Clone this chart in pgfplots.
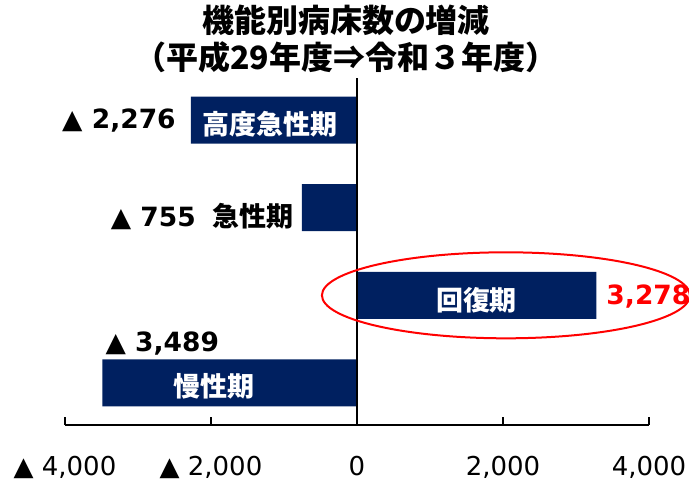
\documentclass[border=0pt]{standalone}
\usepackage{pgfplots}
\pgfplotsset{compat=1.18}
\usepackage{fontspec}
\setmainfont{DejaVu Sans}
\newfontfamily\jp{Noto Sans CJK JP}
\definecolor{navy}{HTML}{002060}
\begin{document}
\begin{tikzpicture}
\begin{axis}[
  at={(65pt,63pt)}, anchor=south west,
  scale only axis, width=584pt, height=347pt,
  xmin=-4000, xmax=4000, ymin=-0.48, ymax=3.48,
  axis x line=bottom, axis y line=none,
  axis line style={-, line width=1.6pt, black},
  xtick={-4000,-2000,0,2000,4000},
  xticklabels={{▲ 4,000},{▲ 2,000},{0},{2,000},{4,000}},
  xtick align=inside, major tick length=8pt,
  tick style={line width=1.6pt, black},
  xticklabel style={font=\fontsize{26}{30}\selectfont, anchor=north, text height=19pt, text depth=5pt, inner sep=0pt, yshift=-31pt},
  ytick=\empty,
  xbar, bar width=47pt,
  clip=false,
]
\addplot[fill=navy, draw=none] coordinates {(-2276,3) (-755,2) (3278,1) (-3489,0)};
\draw[line width=1.6pt] (axis cs:0,-0.48) -- (axis cs:0,3.48);
\draw[red, line width=2pt] (axis cs:2040,1) ellipse [x radius=184pt, y radius=43pt];
% value labels
\node[anchor=east, inner sep=0pt, font=\bfseries\fontsize{26.5}{30}\selectfont] at ([xshift=-15pt]axis cs:-2276,3) {▲ 2,276};
\node[anchor=east, inner sep=0pt, font=\bfseries\fontsize{26.5}{30}\selectfont] at ([xshift=-8pt,yshift=-9pt]axis cs:-755,2) {▲ 755\hspace{17pt}{\jp\bfseries\fontsize{27}{30}\selectfont 急性期}};
\node[anchor=west, inner sep=0pt, text=red, font=\bfseries\fontsize{26.5}{30}\selectfont] at ([xshift=10pt,yshift=-1pt]axis cs:3278,1) {3,278};
\node[anchor=base west, inner sep=0pt, font=\bfseries\fontsize{26.5}{30}\selectfont] at ([xshift=3pt,yshift=31pt]axis cs:-3489,0) {▲ 3,489};
% in-bar labels
\node[text=white, inner sep=0pt, font=\jp\bfseries\fontsize{27}{30}\selectfont] at ([yshift=-4pt]axis cs:-1192,3) {高度急性期};
\node[text=white, inner sep=0pt, font=\jp\bfseries\fontsize{27}{30}\selectfont] at ([yshift=-4.5pt]axis cs:1637,1) {回復期};
\node[text=white, inner sep=0pt, font=\jp\bfseries\fontsize{27}{30}\selectfont] at ([yshift=-3.5pt]axis cs:-1959,0) {慢性期};
\end{axis}
\node[font=\jp\bfseries\fontsize{32}{36}\selectfont] at (346pt,468pt) {機能別病床数の増減};
\node[font=\jp\bfseries\fontsize{32}{36}\selectfont] at (346pt,431pt) {（平成29年度⇒令和３年度）};
\pgfresetboundingbox
\path (0pt,0pt) rectangle (689pt,488pt);
\end{tikzpicture}
\end{document}
